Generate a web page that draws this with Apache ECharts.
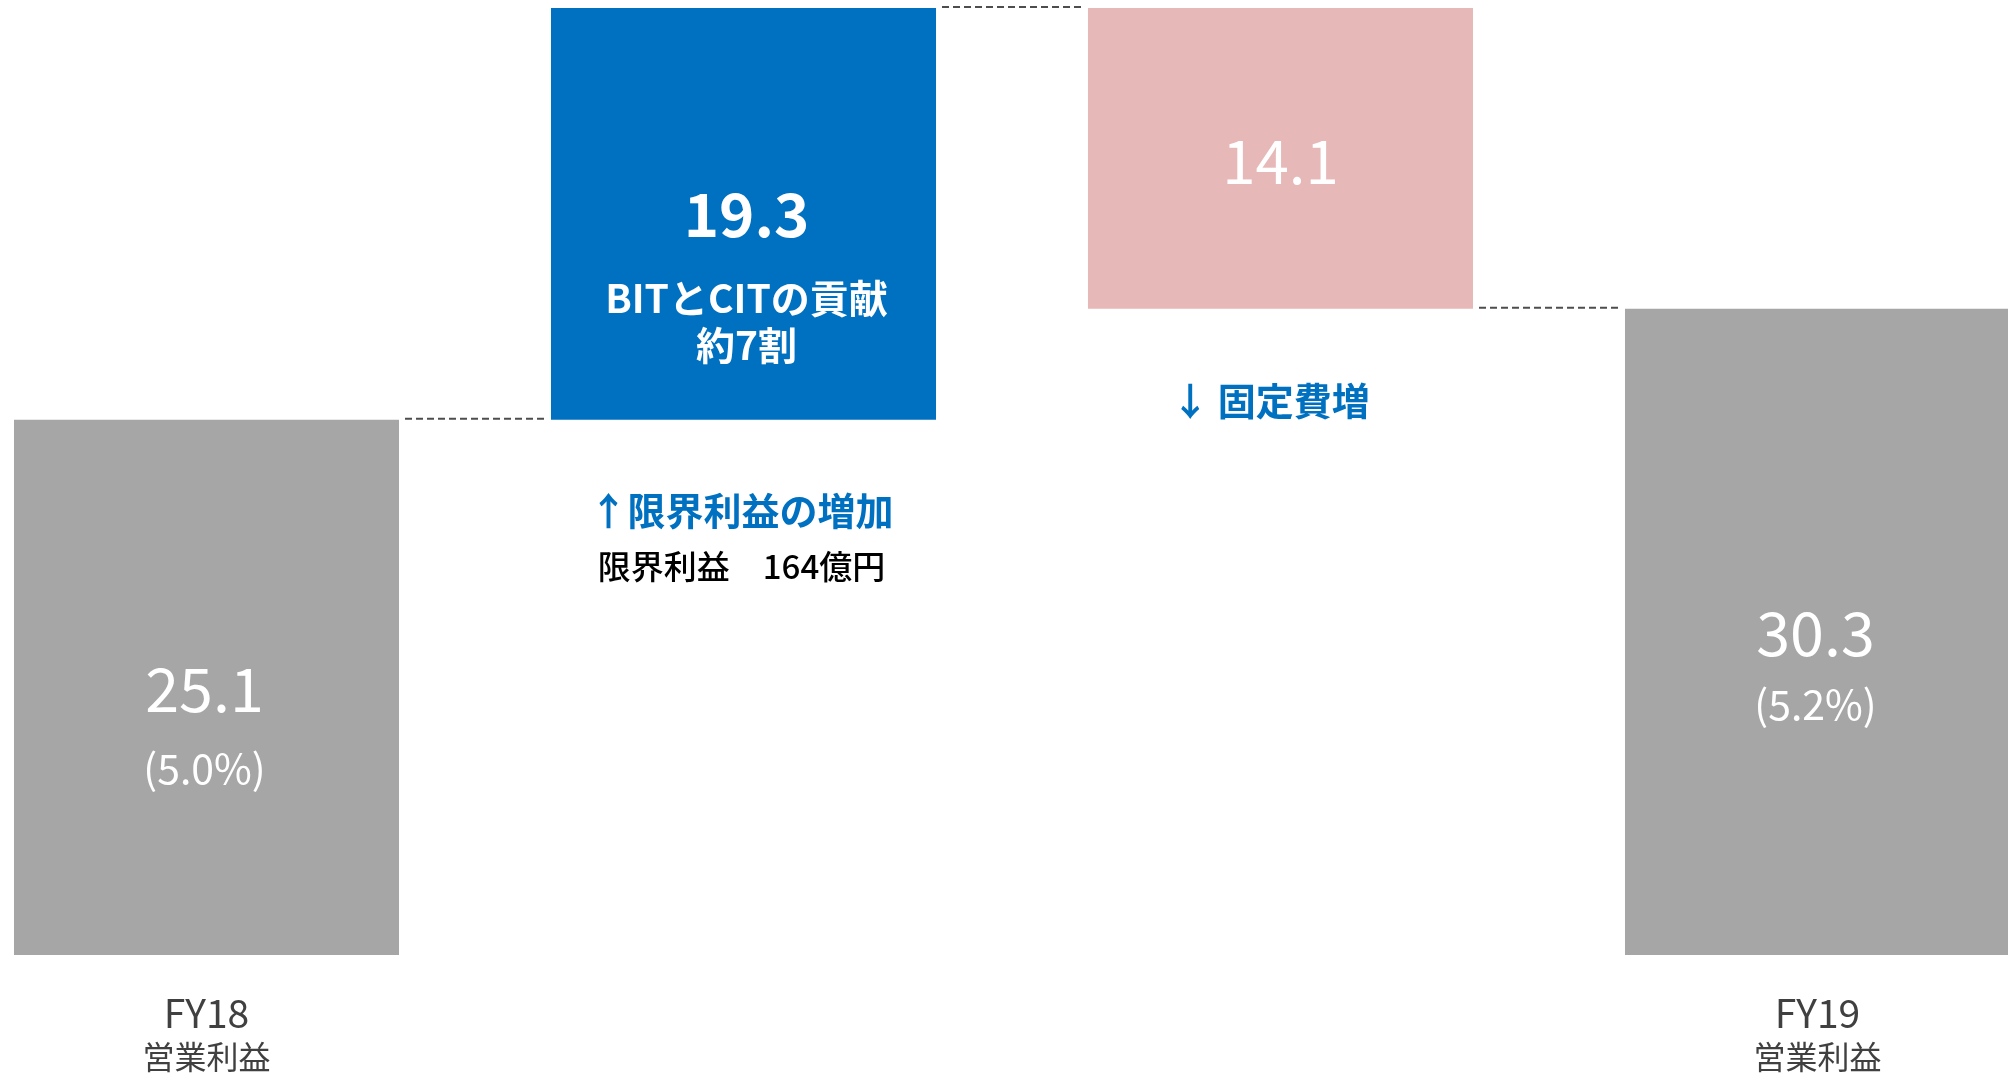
<!DOCTYPE html>
<html>
<head>
<meta charset="utf-8">
<script src="https://cdn.jsdelivr.net/npm/echarts@6/dist/echarts.min.js"></script>
<style>
  html, body { margin: 0; padding: 0; background: #fff; }
  #chart { width: 2008px; height: 1073px; }
</style>
</head>
<body>
<div id="chart"></div>
<script>
// 営業利益の増減（億円）
const categories = ["FY18\n営業利益", "限界利益の増加", "固定費増", "FY19\n営業利益"];
const amounts = [25.1, 19.3, 14.1, 30.3];
const kinds = ["total", "up", "down", "total"];
const margins = ["(5.0%)", "", "", "(5.2%)"];

const colors = { total: "#A6A6A6", up: "#0070C0", down: "#E6B8B7" };
const font = "'Noto Sans CJK JP', 'Noto Sans', sans-serif";

// waterfall: transparent base + visible part
const bases = [];
const levels = [];
let running = 0;
amounts.forEach((v, i) => {
  if (kinds[i] === "total") {
    bases.push(0);
    running = v;
  } else if (kinds[i] === "up") {
    bases.push(running);
    running += v;
  } else {
    running -= v;
    bases.push(running);
  }
  levels.push(running);
});
const topLevel = Math.max(...bases.map((b, i) => b + amounts[i]));

const barFrac = 0.717;

const chart = echarts.init(document.getElementById("chart"));

const visibleData = amounts.map((v, i) => {
  const item = { value: v, itemStyle: { color: colors[kinds[i]] } };
  if (i === 0 || i === 3) {
    item.label = {
      show: true,
      position: "inside",
      offset: [-2, i === 0 ? 41 : 37],
      formatter: "{a|" + v.toFixed(1) + "}\n{b|" + margins[i] + "}",
      rich: {
        a: { fontSize: 61, color: "#fff", lineHeight: i === 0 ? 80 : 72, fontFamily: font },
        b: { fontSize: 41, color: "#fff", lineHeight: i === 0 ? 80 : 72, fontFamily: font }
      }
    };
  } else if (i === 1) {
    item.label = {
      show: true,
      position: "inside",
      offset: [3, 47],
      formatter: "{a|" + v.toFixed(1) + "}\n{b|BITとCITの貢献}\n{b|約7割}",
      rich: {
        a: { fontSize: 60, fontWeight: "bold", color: "#fff", lineHeight: 121, fontFamily: font },
        b: { fontSize: 39, fontWeight: "bold", color: "#fff", lineHeight: 47, fontFamily: font }
      }
    };
  } else {
    item.label = {
      show: true,
      position: "inside",
      offset: [0, 3],
      formatter: "{a|" + v.toFixed(1) + "}",
      rich: { a: { fontSize: 60, color: "#fff", fontFamily: font } }
    };
  }
  return item;
});

const baseData = bases.map((b, i) => {
  const item = { value: b };
  if (i === 1) {
    item.label = {
      show: true,
      position: "insideTop",
      distance: 63,
      offset: [-2, 0],
      formatter: "{h|↑限界利益の増加}\n{s|限界利益　164億円}",
      rich: {
        h: { fontSize: 38, fontWeight: "bold", color: "#0070C0", lineHeight: 56, fontFamily: font },
        s: { fontSize: 33, fontWeight: 500, color: "#000", lineHeight: 56, fontFamily: font }
      }
    };
  } else if (i === 2) {
    item.label = {
      show: true,
      position: "insideTop",
      distance: 67,
      offset: [-10, 0],
      formatter: "{h|↓ 固定費増}",
      rich: {
        h: { fontSize: 38, fontWeight: "bold", color: "#0070C0", lineHeight: 50, fontFamily: font }
      }
    };
  }
  return item;
});

const connectors = [0, 1, 2].map(i => [i, levels[i]]);

const option = {
  animation: false,
  textStyle: { fontFamily: font },
  grid: { left: -62, right: -78, top: 8, bottom: 118, outerBoundsMode: "none" },
  xAxis: {
    type: "category",
    data: categories,
    axisLine: { show: false },
    axisTick: { show: false },
    axisLabel: {
      interval: 0,
      margin: 36,
      color: "#404040",
      fontFamily: font,
      formatter: (v, i) => {
        if (kinds[i] !== "total") return "";
        const parts = v.split("\n");
        return "{y|" + parts[0] + "}\n{j|" + parts[1] + "}";
      },
      rich: {
        y: { fontSize: 39, lineHeight: 44, color: "#404040", fontFamily: font },
        j: { fontSize: 32, lineHeight: 44, color: "#404040", fontFamily: font }
      }
    }
  },
  yAxis: { type: "value", min: 0, max: topLevel, show: false, splitLine: { show: false } },
  series: [
    {
      type: "bar",
      stack: "w",
      barWidth: (barFrac * 100) + "%",
      itemStyle: { color: "rgba(0,0,0,0)" },
      silent: true,
      data: baseData
    },
    {
      type: "bar",
      stack: "w",
      barWidth: (barFrac * 100) + "%",
      data: visibleData
    },
    {
      type: "custom",
      clip: false,
      silent: true,
      z: 5,
      data: connectors,
      renderItem(params, api) {
        const i = api.value(0);
        const level = api.value(1);
        const band = api.size([1, 0])[0];
        const half = band * barFrac / 2;
        const p1 = api.coord([i, level]);
        const p2 = api.coord([i + 1, level]);
        return {
          type: "line",
          shape: { x1: p1[0] + half + 6, y1: p1[1] - 1, x2: p2[0] - half - 3, y2: p2[1] - 1 },
          style: { stroke: "#4d4d4d", lineWidth: 2, lineDash: [7, 4] }
        };
      }
    }
  ]
};

chart.setOption(option);
</script>
</body>
</html>
